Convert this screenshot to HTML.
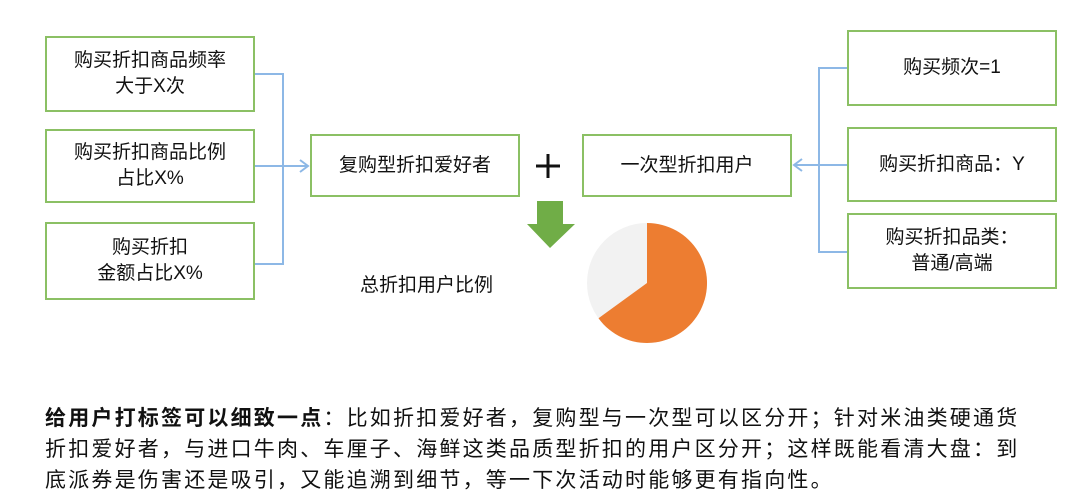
<!DOCTYPE html>
<html><head><meta charset="utf-8"><style>
body{margin:0;width:1080px;height:498px;background:#fff;position:relative;overflow:hidden;font-family:"Liberation Sans","Noto Sans CJK SC",sans-serif;color:#111}
.b{position:absolute;border:2px solid #8bc064;box-sizing:border-box;display:flex;align-items:center;justify-content:center;text-align:center;font-size:19px;line-height:26px;background:#fff}
.t{position:absolute;left:45px;font-size:21px;letter-spacing:2.2px;white-space:nowrap;line-height:31px}
</style></head><body>
<svg width="1080" height="498" style="position:absolute;left:0;top:0">
<g stroke="#8db8e6" stroke-width="2" fill="none">
<polyline points="255,74 283,74 283,264 255,264"/>
<line x1="255" y1="166" x2="308" y2="166"/>
<polyline points="300,160 308,166 300,172"/>
<polyline points="847,68 819,68 819,252 847,252"/>
<line x1="847" y1="165" x2="794" y2="165"/>
<polyline points="802,159 794,165 802,171"/>
</g>
<polygon points="537,201 563,201 563,224 575,224 550,248 527,224 537,224" fill="#70ad47"/>
<circle cx="647" cy="283" r="60" fill="#f2f2f2"/>
<path d="M647,283 L647,223 A60,60 0 1 1 598.5,318.3 Z" fill="#ed7d31"/>
<g stroke="#111" stroke-width="3"><line x1="536" y1="166" x2="560" y2="166"/><line x1="548" y1="154" x2="548" y2="178"/></g>
</svg>
<div class="b" style="left:45px;top:36px;width:210px;height:76px">购买折扣商品频率<br>大于X次</div>
<div class="b" style="left:45px;top:129px;width:210px;height:74px">购买折扣商品比例<br>占比X%</div>
<div class="b" style="left:45px;top:222px;width:210px;height:78px">购买折扣<br>金额占比X%</div>
<div class="b" style="left:310px;top:134px;width:210px;height:63px">复购型折扣爱好者</div>
<div class="b" style="left:582px;top:134px;width:210px;height:63px">一次型折扣用户</div>
<div class="b" style="left:847px;top:30px;width:210px;height:76px">购买频次=1</div>
<div class="b" style="left:847px;top:127px;width:210px;height:75px">购买折扣商品：Y</div>
<div class="b" style="left:847px;top:213px;width:210px;height:76px">购买折扣品类：<br>普通/高端</div>
<div style="position:absolute;left:360px;top:270px;font-size:19px">总折扣用户比例</div>
<div class="t" style="top:403px"><b>给用户打标签可以细致一点</b>：比如折扣爱好者，复购型与一次型可以区分开；针对米油类硬通货</div>
<div class="t" style="top:434px">折扣爱好者，与进口牛肉、车厘子、海鲜这类品质型折扣的用户区分开；这样既能看清大盘：到</div>
<div class="t" style="top:465px">底派券是伤害还是吸引，又能追溯到细节，等一下次活动时能够更有指向性。</div>
</body></html>
